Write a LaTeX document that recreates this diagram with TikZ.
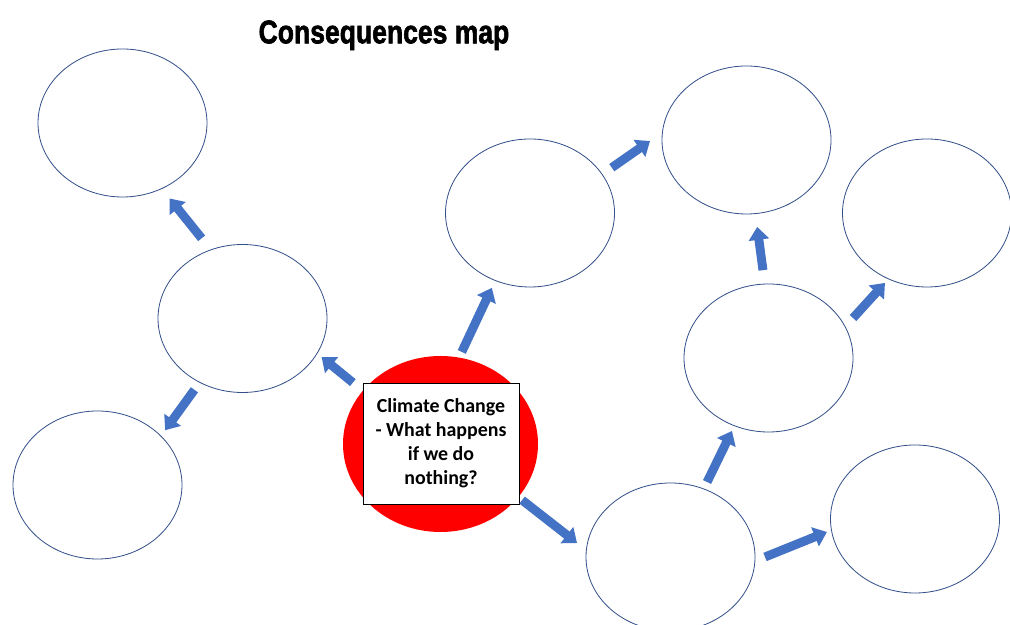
\documentclass[tikz,border=0pt]{standalone}
\usepackage{fontspec}
\usepackage{xcolor}
\usepackage{graphicx}
\usepackage{tikz}
\usetikzlibrary{shapes,arrows.meta,positioning,calc}
\newfontfamily\titlefont{Liberation Sans}[BoldFeatures={FakeBold=2}]
\newfontfamily\boxfont{Carlito}
\definecolor{ringblue}{HTML}{34508A}
\definecolor{flowblue}{HTML}{4472C4}

\begin{document}
\begin{tikzpicture}[x=0.03cm, y=0.03cm,
    bubble/.style={ellipse, draw=ringblue, line width=0.7pt, inner sep=0pt, outer sep=0pt,
        minimum width=5.07cm, minimum height=4.44cm},
    flow/.style={flowblue, line width=7.6pt, -{Triangle[width=17pt,length=11pt]}}]
    \useasboundingbox (0,0) rectangle (1010,625);

    \node[anchor=base] (title) at (384,581.7)
        {\resizebox{214pt}{19.5pt}{\titlefont\bfseries Consequences map}};

    % left side
    \node[bubble] (tl) at (122.5,502) {};
    \node[bubble] (ml) at (242.5,306.5) {};
    \node[bubble] (bl) at (97.5,140) {};

    % centre
    \node[ellipse, fill=red, inner sep=0pt, minimum width=5.85cm, minimum height=5.28cm] (core) at (440.5,181) {};
    \node[draw=black, fill=white, line width=0.8pt, minimum width=4.68cm, minimum height=3.63cm,
        align=center, font=\boxfont\bfseries\fontsize{17}{20.6}\selectfont] (question) at (441,181.5)
        {Climate Change\\- What happens\\if we do\\nothing?};

    % right side
    \node[bubble] (tm) at (530,412) {};
    \node[bubble] (tr) at (746.5,485) {};
    \node[bubble] (fr) at (927,412) {};
    \node[bubble] (mr) at (768.5,267) {};
    \node[bubble] (bm) at (670.5,68) {};
    \node[bubble] (br) at (915,106) {};

    \draw[flow] ($(ml)+(117:90)$) -- ($(tl)+(-58:89)$);
    \draw[flow] ($(ml)+(-124:86)$) -- ($(bl)+(39:87)$);
    \draw[flow] ($(core)+(145:107)$) -- ($(ml)+(-26:88)$);
    \draw[flow] ($(core)+(77:94.5)$) -- ($(tm)+(-117:84)$);
    \draw[flow] ($(core)+(-34.5:99)$) -- ($(bm)+(171.5:94.5)$);
    \draw[flow] ($(tm)+(29:93.5)$) -- ($(tr)+(180.6:96.5)$);
    \draw[flow] ($(mr)+(93.6:88)$) -- ($(tr)+(-83:87.6)$);
    \draw[flow] ($(mr)+(25.3:93.5)$) -- ($(fr)+(-121:81.6)$);
    \draw[flow] ($(bm)+(64:83.4)$) -- ($(mr)+(-116.6:81.6)$);
    \draw[flow] ($(bm)+(0:94.5)$) -- ($(br)+(188.4:89)$);
\end{tikzpicture}
\end{document}
